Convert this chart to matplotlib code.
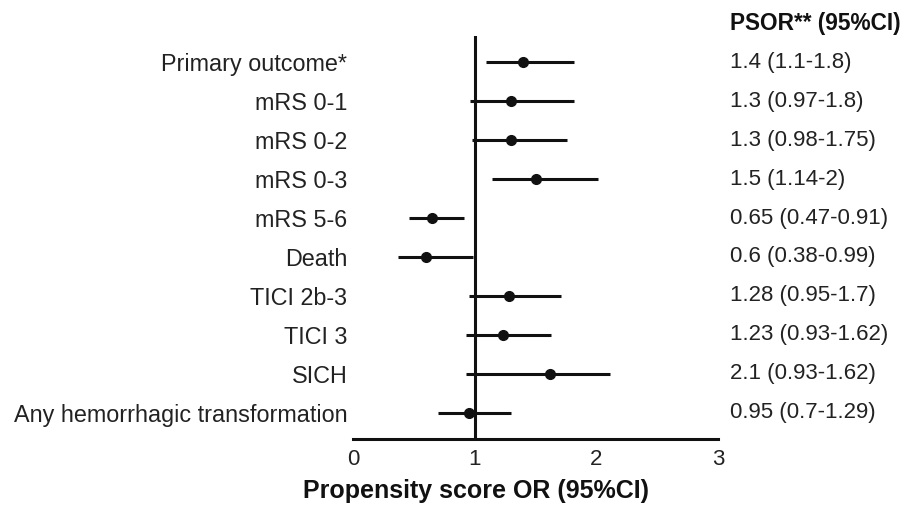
import matplotlib
matplotlib.use("Agg")
import matplotlib.pyplot as plt
import matplotlib.transforms as mtransforms

plt.rcParams['font.family'] = ['Liberation Sans', 'DejaVu Sans']

outcomes = ["Primary outcome*", "mRS 0-1", "mRS 0-2", "mRS 0-3", "mRS 5-6",
            "Death", "TICI 2b-3", "TICI 3", "SICH", "Any hemorrhagic transformation"]
or_point = [1.40, 1.30, 1.30, 1.50, 0.65, 0.60, 1.28, 1.23, 1.62, 0.95]
ci_low   = [1.09, 0.96, 0.98, 1.14, 0.46, 0.37, 0.95, 0.93, 0.93, 0.70]
ci_high  = [1.82, 1.82, 1.76, 2.01, 0.91, 0.99, 1.71, 1.63, 2.11, 1.30]
psor_text = ["1.4 (1.1-1.8)", "1.3 (0.97-1.8)", "1.3 (0.98-1.75)", "1.5 (1.14-2)",
             "0.65 (0.47-0.91)", "0.6 (0.38-0.99)", "1.28 (0.95-1.7)",
             "1.23 (0.93-1.62)", "2.1 (0.93-1.62)", "0.95 (0.7-1.29)"]
x_ticks = [0, 1, 2, 3]
header = "PSOR** (95%CI)"
x_label = "Propensity score OR (95%CI)"

W, H = 904, 507
fig = plt.figure(figsize=(W / 100, H / 100), dpi=100)
ax = fig.add_axes([353 / W, (H - 439) / H, 365 / W, (439 - 36) / H])

rows = list(range(len(outcomes)))
for i in rows:
    ax.plot([ci_low[i], ci_high[i]], [i, i], color='#111111', lw=2.2,
            solid_capstyle='butt', zorder=2)
    ax.plot(or_point[i], i, 'o', color='#111111', ms=7, zorder=3)

ax.axvline(1, color='#111111', lw=2.2, zorder=1)

ax.set_xlim(0, 3)
ax.set_ylim(9.667, -0.667)
for s in ['top', 'right', 'left']:
    ax.spines[s].set_visible(False)
ax.spines['bottom'].set_linewidth(2.2)
ax.spines['bottom'].set_color('#111111')
ax.set_xticks(x_ticks)
ax.set_xticklabels([str(t) for t in x_ticks], fontsize=16, color='#222222')
ax.tick_params(axis='x', length=0, pad=7)
ax.set_yticks(rows)
ax.set_yticklabels(outcomes, fontsize=16.8, color='#222222')
ax.tick_params(axis='y', length=0, pad=4)

ax.text(0.337, -0.13, x_label, transform=ax.transAxes, fontsize=18,
        fontweight='bold', ha='center', va='center', color='#111111')

trans = mtransforms.blended_transform_factory(ax.transAxes, ax.transData)
for i in rows:
    ax.text(1.033, i, psor_text[i], transform=trans, fontsize=16,
            va='center', ha='left', color='#222222', clip_on=False)
ax.text(1.033, -1.0, header, transform=trans, fontsize=16.3, fontweight='bold',
        va='center', ha='left', color='#111111', clip_on=False)

fig.savefig("out.png", dpi=100)
